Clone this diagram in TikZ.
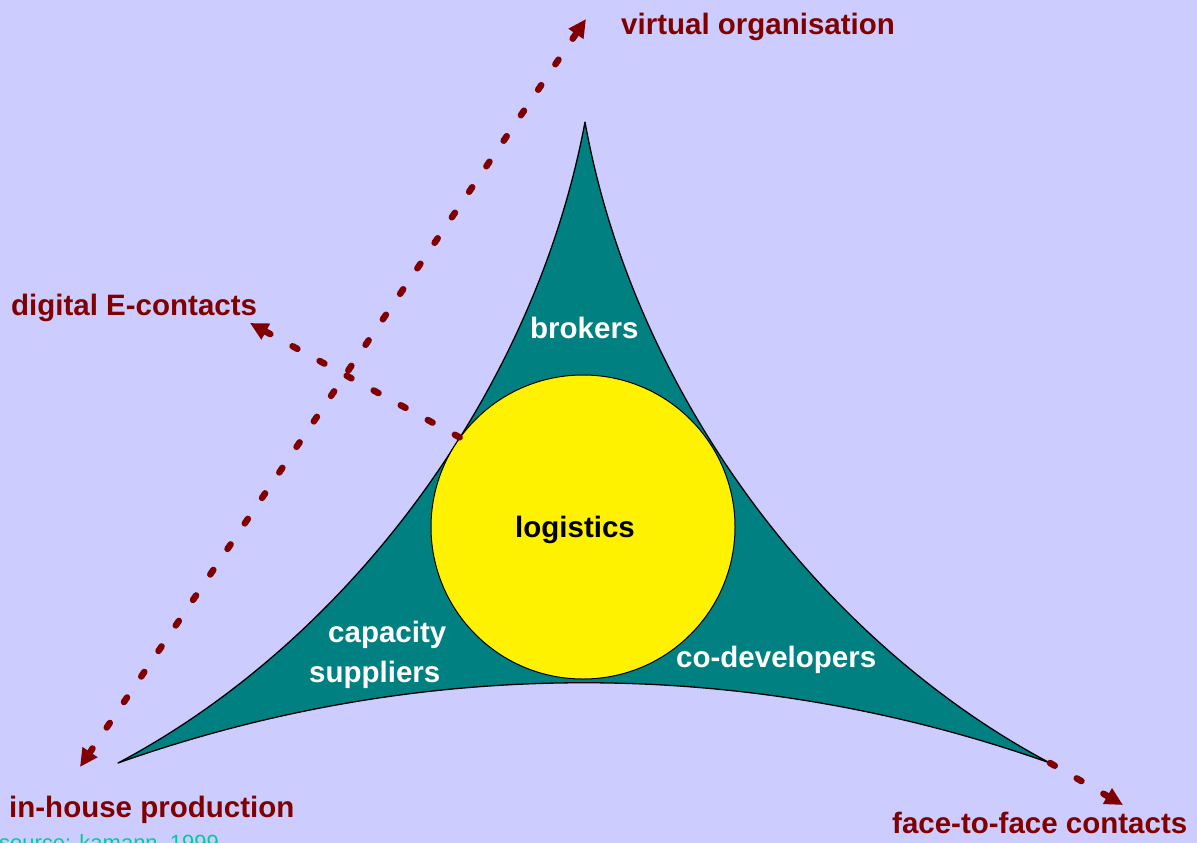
\documentclass[tikz,border=0pt]{standalone}
\usepackage{fontspec}
\setmainfont{Liberation Sans}
\usetikzlibrary{arrows.meta}
\definecolor{lilac}{HTML}{CCCCFF}
\definecolor{petrol}{HTML}{008080}
\definecolor{labelred}{HTML}{800000}
\definecolor{srcgreen}{HTML}{00CC99}

\begin{document}
\begin{tikzpicture}[
		x=1pt, y=-1pt,
		every node/.style={font=\fontsize{29.5}{34}\selectfont\bfseries, inner sep=0pt},
		lbl/.style={text=labelred, anchor=base west},
		inlbl/.style={text=white, anchor=base west},
		dotarrow/.style={draw=labelred, line width=6.5pt, line cap=round,
			dash pattern=on 5.5pt off 25.3pt, -{Triangle[length=18pt, width=17pt]}}
	]
  \fill[lilac] (0,0) rectangle (1197,843);
  \useasboundingbox (0,0) rectangle (1197,843);
  % corners of the triangle
  \coordinate (top) at (585,122);
  \coordinate (left) at (118,763);
  \coordinate (right) at (1050,763);
  \filldraw[fill=petrol, draw=black, line width=1.3pt, line join=round]
    (top) .. controls (633,390) and (818,640) .. (right)
    .. controls (748,656) and (420,656) .. (left)
    .. controls (350,640) and (535,390) .. (top) -- cycle;
  \node (logi) [circle, fill=yellow, draw=black, line width=1pt, minimum size=304pt] at (583,527) {};
  \node (logi_label) [anchor=base west] at (515,537) {logistics};
  \node (brok) [inlbl] at (530,338) {brokers};
  \node (capa) [inlbl] at (328,642) {capacity};
  \node (supp) [inlbl] at (309,682) {suppliers};
  \node (codev) [inlbl] at (676,667) {co-developers};
  % outer labels
  \node (virt) [lbl] at (621,35) {virtual organisation};
  \node (digi) [lbl] at (11,315) {digital E-contacts};
  \node (inh) [lbl] at (9,817) {in-house production};
  \node (face) [lbl] at (892,833) {face-to-face contacts};
  \node (src) [anchor=base west, text=srcgreen, font=\fontsize{22}{25}\selectfont] at (-1,850) {source: kamann, 1999};
  % dotted arrows
  \coordinate (inh_tip) at (80,767);
  \coordinate (virt_tip) at (586,19);
  \coordinate (digi_tip) at (250,323);
  \coordinate (face_tip) at (1123,805);
  \draw [dotarrow, {Triangle[length=18pt, width=17pt]}-{Triangle[length=18pt, width=17pt]}] (inh_tip) -- (virt_tip);
  \draw [dotarrow] (logi.144) -- (digi_tip);
  \draw [dotarrow] (right) -- (face_tip);
\end{tikzpicture}
\end{document}
